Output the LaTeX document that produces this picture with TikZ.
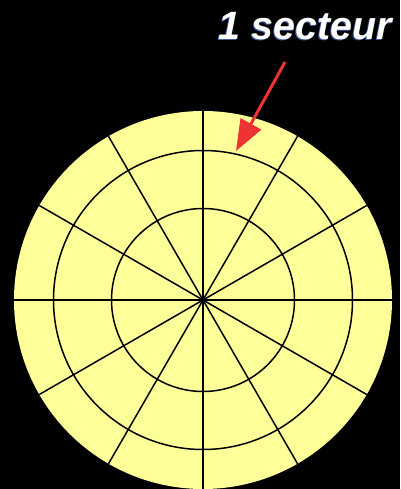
\documentclass[tikz,border=0pt]{standalone}
\usepackage{fontspec}
\setmainfont{Liberation Sans}
\usetikzlibrary{arrows.meta}
\definecolor{disk}{RGB}{255,255,153}
\definecolor{arrowred}{RGB}{240,50,50}
\definecolor{shadowblue}{RGB}{60,90,160}
\tikzset{
  gridline/.style={black, line width=1.5pt},
  redarrow/.style={arrowred, line width=3pt, -{Triangle[length=31pt,width=23pt]}},
  label/.style={font=\fontsize{39.5}{42}\selectfont\bfseries\itshape, inner sep=0pt}
}
\begin{document}
\begin{tikzpicture}[x=1pt,y=-1pt]
\fill[black] (0,0) rectangle (400,489);
\useasboundingbox (0,0) rectangle (400,489);
\coordinate (c) at (203,300);
\fill[disk] (c) circle (189);
\begin{scope}
\clip (c) circle (189);
\foreach \a in {0,30,...,330}
  \draw[gridline] (c) -- ++(\a:-200);
\end{scope}
\draw[gridline] (c) circle (149.5);
\draw[gridline] (c) circle (91.5);
\fill[black] (c) circle (2.5);
\node[label, anchor=base, text=shadowblue] at (304,41) {1 secteur};
\node[label, anchor=base, text=white] (t) at (305,40) {1 secteur};
\coordinate (a1) at (285,62);
\coordinate (a2) at (236,151);
\draw[redarrow] (a1) -- (a2);
\end{tikzpicture}
\end{document}
